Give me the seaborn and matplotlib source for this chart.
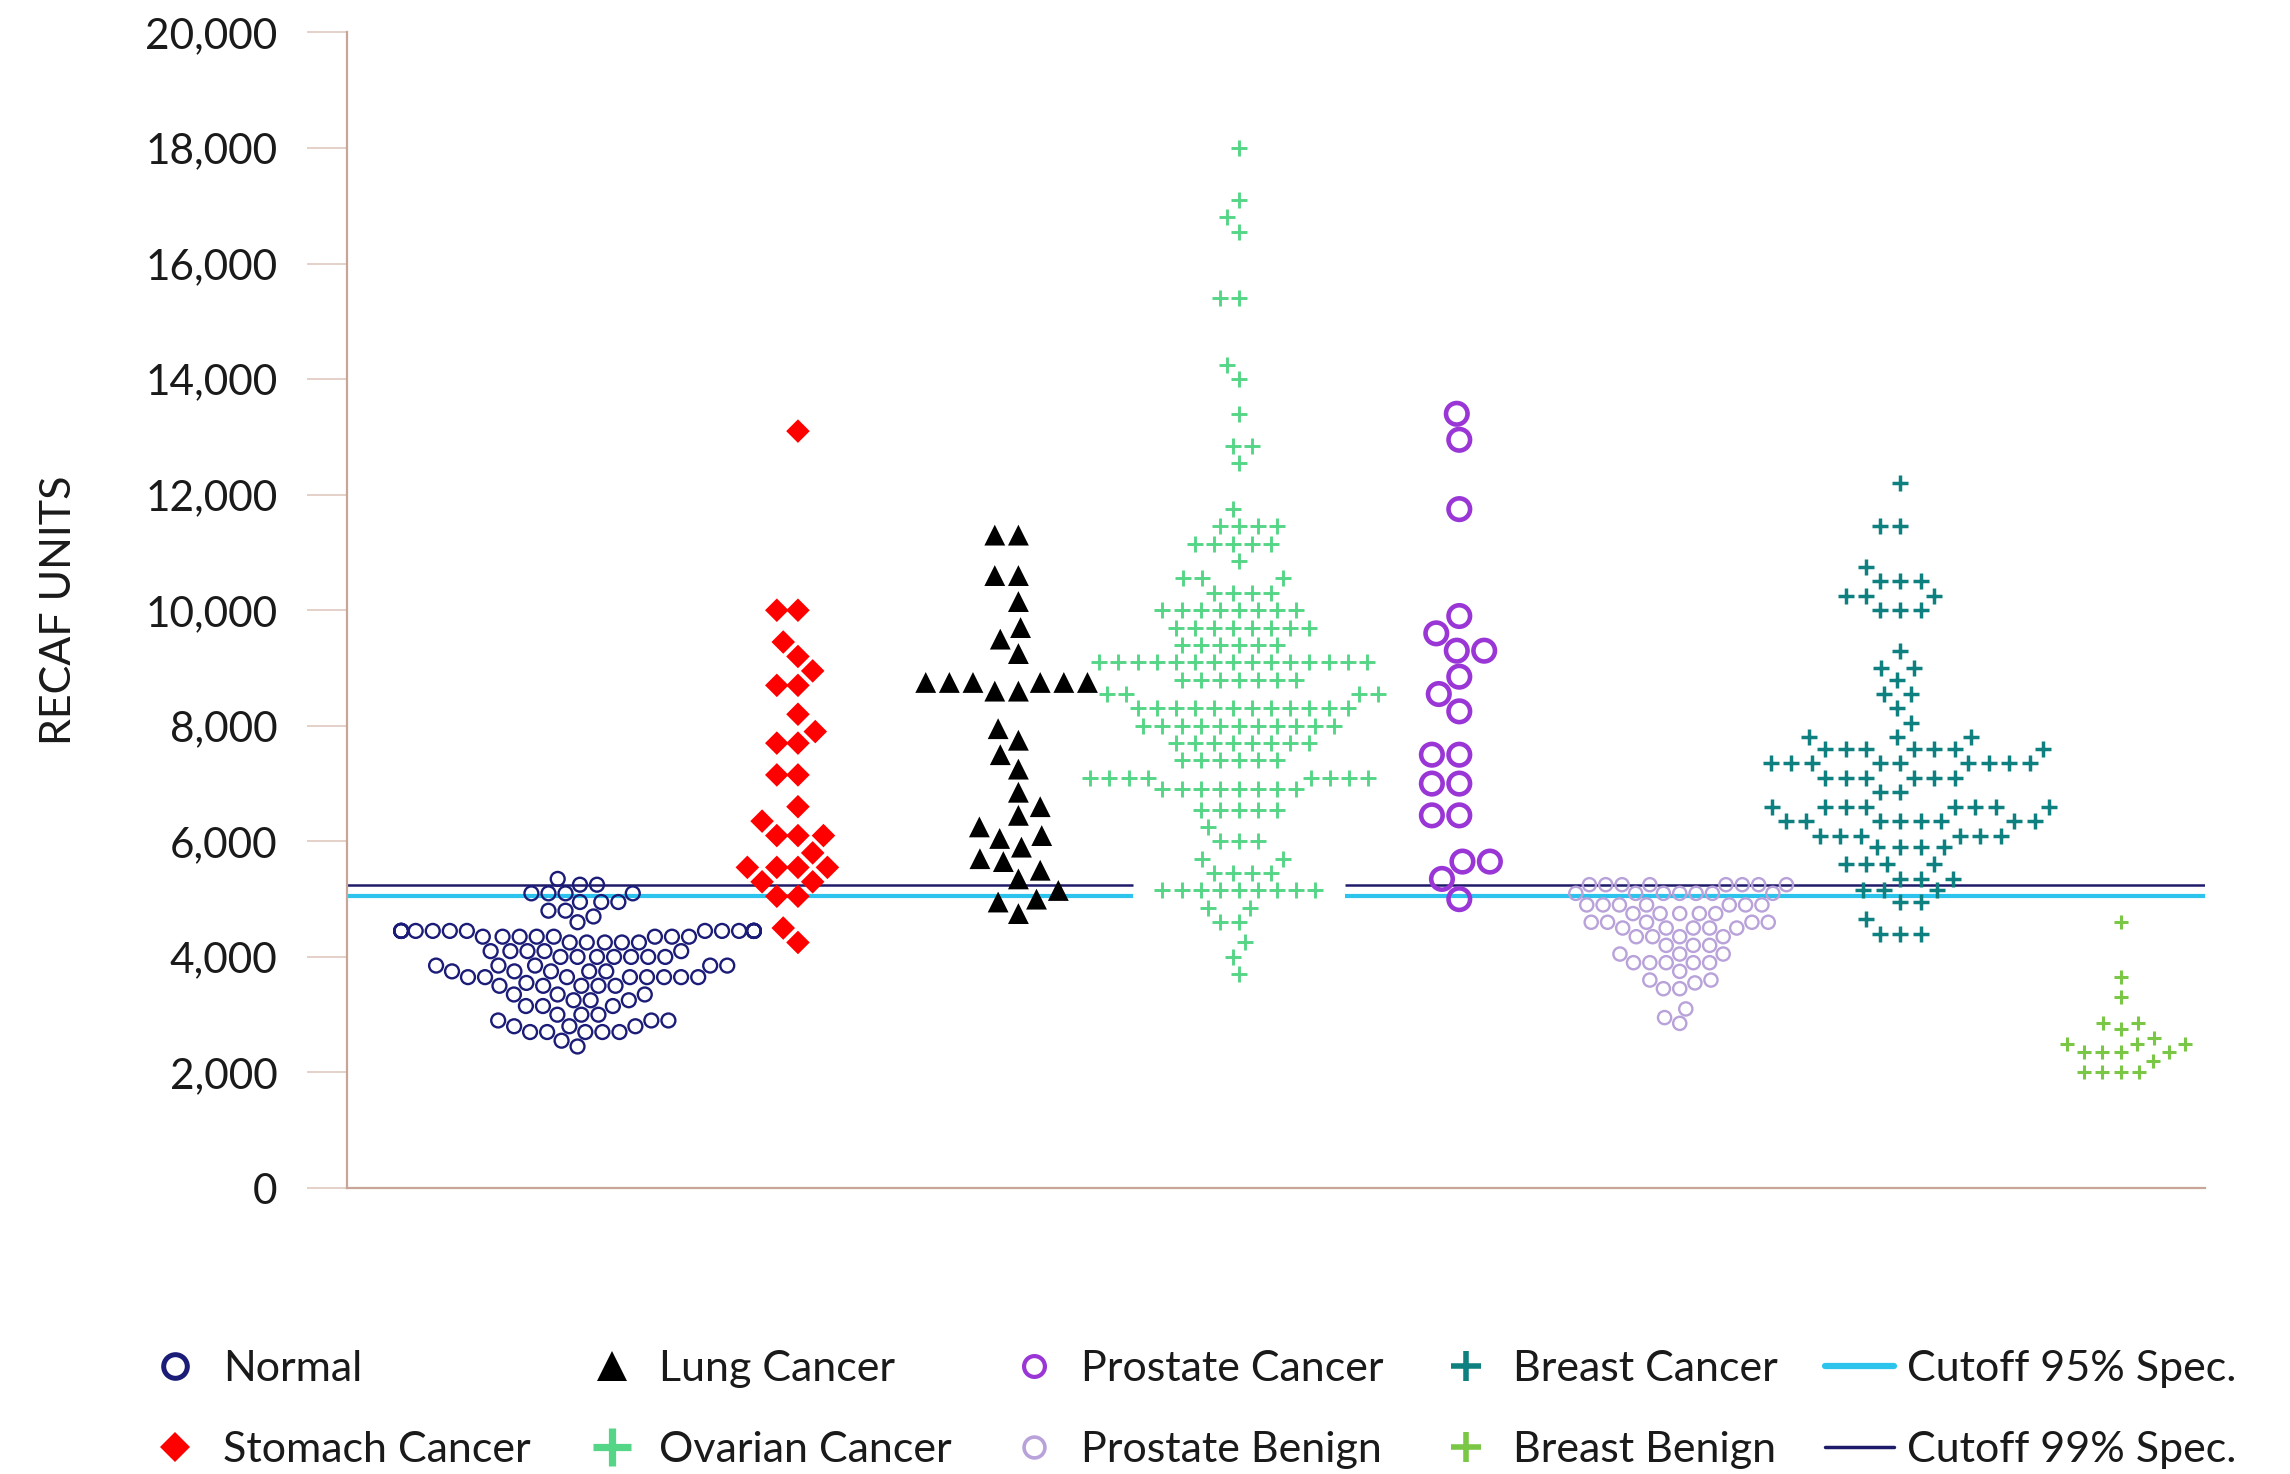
import warnings
import numpy as np
import pandas as pd
import matplotlib
matplotlib.use("Agg")
import matplotlib.pyplot as plt
import seaborn as sns
from matplotlib.lines import Line2D

warnings.filterwarnings("ignore")

# ---------------- data ----------------
groups = ["Normal", "Stomach Cancer", "Lung Cancer", "Ovarian Cancer",
          "Prostate Cancer", "Prostate Benign", "Breast Cancer", "Breast Benign"]

normal = [5350, 5250, 5250, 5100, 5100, 5100, 5100, 4950, 4950, 4950, 4800, 4800,
          4700, 4600,
          4450, 4450, 4450, 4450, 4450, 4450, 4450, 4450, 4450, 4450, 4450, 4450,
          4450, 4450, 4450, 4450, 4450, 4450,
          4350, 4350, 4350, 4350, 4350, 4350, 4350, 4350,
          4250, 4250, 4250, 4250, 4250,
          4100, 4100, 4100, 4100, 4100,
          4000, 4000, 4000, 4000, 4000, 4000, 4000,
          3850, 3850, 3850, 3850, 3850,
          3750, 3750, 3750, 3750, 3750,
          3650, 3650, 3650, 3650, 3650, 3650, 3650, 3650,
          3550, 3500, 3500, 3500, 3500, 3500,
          3350, 3350, 3350, 3250, 3250, 3250, 3150, 3150, 3150,
          3000, 3000, 3000, 2900, 2900, 2900, 2800, 2800, 2800,
          2700, 2700, 2700, 2700, 2700, 2550, 2450]

stomach = [13100, 10000, 10000, 9450, 9200, 8950, 8700, 8700, 8200, 7900, 7700, 7700,
           7150, 7150, 6600, 6350, 6100, 6100, 6100, 5800, 5550, 5550, 5550, 5550,
           5300, 5300, 5050, 5050, 4500, 4250]

lung = [11300, 11300, 10600, 10600, 10150, 9700, 9500, 9250,
        8750, 8750, 8750, 8750, 8750, 8750, 8600, 8600,
        7950, 7750, 7500, 7250, 6850, 6600, 6450, 6250, 6100, 6050, 5900, 5700,
        5650, 5500, 5350, 5150, 5000, 4950, 4750]

ovarian = [18000, 17100, 16800, 16550, 15400, 15400, 14250, 14000, 13400, 12850, 12850,
           12550, 11750, 11450, 11450, 11450, 11450, 11150, 11150, 11150, 11150, 11150,
           10850, 10550, 10550, 10550, 10300, 10300, 10300, 10300,
           10000, 10000, 10000, 10000, 10000, 10000, 10000, 10000,
           9700, 9700, 9700, 9700, 9700, 9700, 9700, 9700,
           9400, 9400, 9400, 9400, 9400, 9400,
           9100, 9100, 9100, 9100, 9100, 9100, 9100, 9100, 9100, 9100, 9100, 9100,
           9100, 9100, 9100,
           8800, 8800, 8800, 8800, 8800, 8800, 8800,
           8550, 8550, 8550, 8550,
           8300, 8300, 8300, 8300, 8300, 8300, 8300, 8300, 8300, 8300, 8300, 8300,
           8000, 8000, 8000, 8000, 8000, 8000, 8000, 8000, 8000, 8000, 8000,
           7700, 7700, 7700, 7700, 7700, 7700, 7700, 7700,
           7400, 7400, 7400, 7400, 7400, 7400,
           7100, 7100, 7100, 7100, 7100, 7100, 7100, 7100,
           6900, 6900, 6900, 6900, 6900, 6900, 6900, 6900,
           6550, 6550, 6550, 6550, 6550, 6250, 6000, 6000, 6000, 5700, 5700,
           5450, 5450, 5450, 5450,
           5150, 5150, 5150, 5150, 5150, 5150, 5150, 5150, 5150,
           4850, 4850, 4600, 4600, 4250, 4000, 3700]

prostate_cancer = [13400, 12950, 11750, 9900, 9600, 9300, 9300, 8850, 8550, 8250,
                   7500, 7500, 7000, 7000, 6450, 6450, 5650, 5650, 5350, 5000]

prostate_benign = [5250, 5250, 5250, 5250, 5250, 5250, 5250, 5250,
                   5100, 5100, 5100, 5100, 5100, 5100, 5100,
                   4900, 4900, 4900, 4900, 4900, 4900, 4900,
                   4750, 4750, 4750, 4750, 4750, 4600, 4600, 4600, 4600, 4600,
                   4500, 4500, 4500, 4500, 4500, 4350, 4350, 4350, 4350,
                   4200, 4200, 4200, 4050, 4050, 4050,
                   3900, 3900, 3900, 3900, 3900, 3750, 3600, 3600, 3550,
                   3450, 3450, 3100, 2950, 2850]

breast_cancer = [12200, 11450, 11450, 10750, 10500, 10500, 10500, 10250, 10250, 10250,
                 10000, 10000, 10000, 9300, 9000, 9000, 8800, 8550, 8550, 8300, 8050,
                 7800, 7800, 7800, 7600, 7600, 7600, 7600, 7600, 7600, 7600,
                 7350, 7350, 7350, 7350, 7350, 7350, 7350, 7350, 7350,
                 7100, 7100, 7100, 7100, 7100, 7100, 6850, 6850,
                 6600, 6600, 6600, 6600, 6600, 6600, 6600, 6600,
                 6350, 6350, 6350, 6350, 6350, 6350, 6350, 6350,
                 6100, 6100, 6100, 6100, 6100, 6100,
                 5900, 5900, 5900, 5900, 5600, 5600, 5600, 5600,
                 5350, 5350, 5350, 5150, 5150, 5150, 4950, 4950, 4650,
                 4400, 4400, 4400]

breast_benign = [4600, 3650, 3300, 2850, 2850, 2750, 2600, 2500, 2500, 2500,
                 2350, 2350, 2350, 2350, 2200, 2000, 2000, 2000, 2000]

cutoff_95 = 5050
cutoff_99 = 5250
cutoff_labels = ["Cutoff 95% Spec.", "Cutoff 99% Spec."]
y_ticks = [0, 2000, 4000, 6000, 8000, 10000, 12000, 14000, 16000, 18000, 20000]
y_label = "RECAF UNITS"

values_by_group = {
    "Normal": normal, "Stomach Cancer": stomach, "Lung Cancer": lung,
    "Ovarian Cancer": ovarian, "Prostate Cancer": prostate_cancer,
    "Prostate Benign": prostate_benign, "Breast Cancer": breast_cancer,
    "Breast Benign": breast_benign,
}

# ---------------- styles ----------------
STYLE = {
    "Normal":          dict(marker="o", color="#1b1b78", size=10.0, lw=1.7, kind="hollow"),
    "Stomach Cancer":  dict(marker="D", color="#ff0000", size=12.0, lw=2.5, kind="filled"),
    "Lung Cancer":     dict(marker="^", color="#000000", size=15.0, lw=1.2, kind="filled"),
    "Ovarian Cancer":  dict(marker="+", color="#55d687", size=11.0, lw=2.1, kind="line"),
    "Prostate Cancer": dict(marker="o", color="#9a35d6", size=15.5, lw=3.3, kind="hollow"),
    "Prostate Benign": dict(marker="o", color="#b8a2d9", size=9.5, lw=1.7, kind="hollow"),
    "Breast Cancer":   dict(marker="+", color="#0f8080", size=11.5, lw=2.5, kind="line"),
    "Breast Benign":   dict(marker="+", color="#79c745", size=10.5, lw=2.2, kind="line"),
}
C95 = "#2cc4ec"
C99 = "#1f1b6b"
SPINE = "#c9a598"
TICK = "#dcc3b9"
TEXT = "#1a1a1a"

sns.set_theme(style="white")
plt.rcParams["font.family"] = ["Lato", "DejaVu Sans"]

fig = plt.figure(figsize=(22.9, 14.74), dpi=100)
ax = fig.add_axes([0.1515, 0.194, 0.8115, 0.784])

STEP = 0.5  # distance between group centres on the native x scale
for i, g in enumerate(groups):
    vals = np.asarray(values_by_group[g], dtype=float)
    df = pd.DataFrame({"group_pos": np.full(vals.size, i * STEP), "value": vals})
    st = STYLE[g]
    sns.swarmplot(data=df, x="group_pos", y="value", orient="x", native_scale=True,
                  color=st["color"], marker=st["marker"], size=st["size"],
                  linewidth=st["lw"], ax=ax, legend=False, warn_thresh=1.0)
    coll = ax.collections[-1]
    if st["kind"] == "hollow":
        coll.set_facecolor("none")
        coll.set_edgecolor(st["color"])
    elif st["kind"] == "filled":
        coll.set_facecolor(st["color"])
        coll.set_edgecolor("none")
    else:
        coll.set_facecolor(st["color"])
        coll.set_edgecolor(st["color"])
    coll.set_linewidth(st["lw"])
    coll.set_zorder(3)

x0, x1 = -0.523, 3.692
gap_c, gap_hw = 3 * STEP, 0.24
for val, col, lw in [(cutoff_99, C99, 1.8), (cutoff_95, C95, 3.0)]:
    ax.hlines(val, x0, gap_c - gap_hw, color=col, lw=lw, zorder=2)
    ax.hlines(val, gap_c + gap_hw, x1, color=col, lw=lw, zorder=2)

ax.set_xlim(x0, x1)
ax.set_ylim(0, 20000)
ax.set_yticks(y_ticks)
ax.set_yticklabels([f"{t:,}" for t in y_ticks])
ax.set_xticks([])
ax.set_xlabel("")
for s in ["top", "right"]:
    ax.spines[s].set_visible(False)
for s in ["left", "bottom"]:
    ax.spines[s].set_color(SPINE)
    ax.spines[s].set_linewidth(1.6)
ax.tick_params(axis="y", left=True, direction="out", length=29, width=1.1, color=TICK,
               pad=21, labelsize=30.5, labelcolor=TEXT)
ax.set_ylabel(y_label, fontsize=31, color=TEXT)
ax.yaxis.set_label_coords(-0.1445, 0.5)

# ---------------- legend ----------------
def mk(marker, color, ms, mew=0, hollow=False):
    return Line2D([], [], ls="none", marker=marker, markersize=ms,
                  markerfacecolor="none" if hollow else color,
                  markeredgecolor=color, markeredgewidth=mew)

handles = [
    mk("o", STYLE["Normal"]["color"], 17, 3.6, hollow=True),
    mk("D", STYLE["Stomach Cancer"]["color"], 15),
    mk("^", STYLE["Lung Cancer"]["color"], 21),
    mk("+", STYLE["Ovarian Cancer"]["color"], 27, 5.2),
    mk("o", STYLE["Prostate Cancer"]["color"], 15, 3.0, hollow=True),
    mk("o", STYLE["Prostate Benign"]["color"], 15, 2.6, hollow=True),
    mk("+", STYLE["Breast Cancer"]["color"], 21, 4.0),
    mk("+", STYLE["Breast Benign"]["color"], 21, 4.0),
    Line2D([], [], color=C95, lw=4.5),
    Line2D([], [], color=C99, lw=2.5),
]
labels = groups + cutoff_labels
fig.legend(handles, labels, loc="center", bbox_to_anchor=(0.519, 0.044), ncol=5,
           frameon=False, fontsize=31, handlelength=1.6, handletextpad=0.3,
           columnspacing=1.1, labelspacing=1.0, borderpad=0, borderaxespad=0,
           labelcolor=TEXT)

fig.savefig("out.png", dpi=100)
